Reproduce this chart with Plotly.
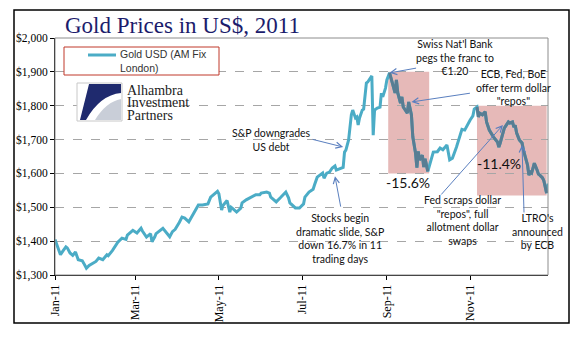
import plotly.graph_objects as go

# ---------------- data ----------------
dates = [
    "2011-01-03", "2011-01-05", "2011-01-07", "2011-01-09", "2011-01-11", "2011-01-12", "2011-01-14",
    "2011-01-16", "2011-01-18", "2011-01-20", "2011-01-23", "2011-01-24", "2011-01-26", "2011-01-28",
    "2011-01-31", "2011-02-02", "2011-02-04", "2011-02-07", "2011-02-10", "2011-02-11", "2011-02-14",
    "2011-02-17", "2011-02-18", "2011-02-21", "2011-02-24", "2011-02-25", "2011-03-01", "2011-03-04",
    "2011-03-07", "2011-03-08", "2011-03-11", "2011-03-14", "2011-03-15", "2011-03-17", "2011-03-18",
    "2011-03-23", "2011-03-25", "2011-03-28", "2011-03-30", "2011-04-01", "2011-04-04", "2011-04-06",
    "2011-04-08", "2011-04-11", "2011-04-13", "2011-04-15", "2011-04-18", "2011-04-21", "2011-04-25",
    "2011-04-27", "2011-05-02", "2011-05-03", "2011-05-05", "2011-05-06", "2011-05-09", "2011-05-11",
    "2011-05-12", "2011-05-13", "2011-05-16", "2011-05-19", "2011-05-20", "2011-05-23", "2011-05-27",
    "2011-05-30", "2011-06-02", "2011-06-03", "2011-06-07", "2011-06-09", "2011-06-10", "2011-06-14",
    "2011-06-17", "2011-06-20", "2011-06-21", "2011-06-23", "2011-06-24", "2011-06-28", "2011-07-01",
    "2011-07-04", "2011-07-05", "2011-07-08", "2011-07-11", "2011-07-12", "2011-07-14", "2011-07-18",
    "2011-07-19", "2011-07-21", "2011-07-23", "2011-07-25", "2011-07-27", "2011-07-28", "2011-07-31",
    "2011-08-02", "2011-08-03", "2011-08-04", "2011-08-06", "2011-08-07", "2011-08-08", "2011-08-09",
    "2011-08-11", "2011-08-12", "2011-08-13", "2011-08-14", "2011-08-16", "2011-08-17", "2011-08-18",
    "2011-08-19", "2011-08-20", "2011-08-22", "2011-08-23", "2011-08-24", "2011-08-25", "2011-08-27",
    "2011-08-29", "2011-08-30", "2011-08-31", "2011-09-02", "2011-09-03", "2011-09-05", "2011-09-07",
    "2011-09-09", "2011-09-10", "2011-09-11", "2011-09-13", "2011-09-14", "2011-09-15", "2011-09-18",
    "2011-09-19", "2011-09-20", "2011-09-21", "2011-09-22", "2011-09-24", "2011-09-25", "2011-09-26",
    "2011-09-27", "2011-09-29", "2011-09-30", "2011-10-01", "2011-10-03", "2011-10-05", "2011-10-07",
    "2011-10-10", "2011-10-12", "2011-10-14", "2011-10-17", "2011-10-19", "2011-10-21", "2011-10-24",
    "2011-10-27", "2011-10-28", "2011-10-30", "2011-11-01", "2011-11-03", "2011-11-05", "2011-11-06",
    "2011-11-08", "2011-11-09", "2011-11-10", "2011-11-12", "2011-11-14", "2011-11-15", "2011-11-17",
    "2011-11-20", "2011-11-23", "2011-11-24", "2011-11-25", "2011-11-26", "2011-11-27", "2011-11-28",
    "2011-12-01", "2011-12-02", "2011-12-04", "2011-12-05", "2011-12-06", "2011-12-07", "2011-12-09",
    "2011-12-11", "2011-12-12", "2011-12-13", "2011-12-15", "2011-12-16", "2011-12-17", "2011-12-18",
    "2011-12-19", "2011-12-20", "2011-12-22", "2011-12-23", "2011-12-24", "2011-12-26", "2011-12-27",
    "2011-12-28", "2011-12-29", "2011-12-30",
]
gold_usd = [
    1405, 1380, 1360, 1372, 1383, 1380, 1365,
    1358, 1368, 1345, 1342, 1335, 1320, 1328,
    1335, 1340, 1350, 1345, 1360, 1357, 1372,
    1389, 1397, 1409, 1405, 1418, 1432, 1424,
    1438, 1430, 1412, 1422, 1398, 1412, 1422,
    1438, 1428, 1413, 1428, 1435, 1455, 1471,
    1468, 1457, 1471, 1486, 1507, 1507, 1510,
    1530, 1547, 1540, 1492, 1505, 1520, 1486,
    1500, 1497, 1486, 1497, 1513, 1522, 1530,
    1537, 1537, 1542, 1545, 1542, 1530, 1516,
    1528, 1542, 1545, 1528, 1513, 1498, 1498,
    1510, 1530, 1545, 1553, 1566, 1589, 1601,
    1586, 1601, 1604, 1616, 1622, 1610, 1616,
    1618, 1663, 1669, 1699, 1737, 1773, 1787,
    1764, 1767, 1743, 1764, 1787, 1790, 1826,
    1867, 1870, 1882, 1888, 1713, 1787, 1793,
    1796, 1837, 1826, 1852, 1876, 1897, 1867,
    1838, 1876, 1838, 1808, 1826, 1796, 1778,
    1811, 1796, 1773, 1708, 1660, 1617, 1665,
    1640, 1654, 1619, 1643, 1606, 1634, 1663,
    1664, 1675, 1670, 1684, 1640, 1645, 1678,
    1719, 1730, 1728, 1745, 1758, 1770, 1790,
    1796, 1767, 1778, 1773, 1782, 1752, 1728,
    1708, 1693, 1678, 1690, 1708, 1722, 1734,
    1752, 1749, 1752, 1737, 1742, 1720, 1699,
    1690, 1669, 1655, 1625, 1595, 1604, 1601,
    1615, 1630, 1610, 1598, 1595, 1587, 1578,
    1560, 1542, 1570,
]

# shaded sell-off periods: start, end, low, high, label
shade_start = ["2011-09-04", "2011-11-08"]
shade_end = ["2011-10-04", "2011-12-29"]
shade_low = [1600, 1535]
shade_high = [1900, 1800]
shade_label = ["-15.6%", "-11.4%"]

tick_dates = ["2011-01-03", "2011-03-03", "2011-05-03", "2011-07-03", "2011-09-03", "2011-11-03"]
tick_text = ["Jan-11", "Mar-11", "May-11", "Jul-11", "Sep-11", "Nov-11"]

# event annotations: text, arrow head (date, price), arrow tail offset (px), text centre (px)
events = [
    ("Swiss Nat'l Bank<br>pegs the franc to<br>€1.20", "2011-09-05", 1897, 28, -5, 455, 58),
    ("ECB, Fed, BoE<br>offer term dollar<br>\"repos\"", "2011-09-21", 1811, 60, -9, 513, 87),
    ("S&P downgrades<br>US debt", "2011-08-02", 1678, -32, -8, 271, 140),
    ("Stocks begin<br>dramatic slide, S&P<br>down 16.7% in 11<br>trading days", "2011-07-27", 1592, 6, 32, 340, 238),
    ("Fed scraps dollar<br>\"repos\", full<br>allotment dollar<br>swaps", "2011-11-27", 1743, -63, 71, 462, 220),
    ("LTRO's<br>announced<br>by ECB", "2011-12-11", 1684, 2, 69, 537, 231),
]
label_pos = [(408, 182), (499, 163)]
logo_lines = ["Alhambra", "Investment", "Partners"]

# ---------------- layout helpers (pixel -> paper) ----------------
W, H = 577, 341
L, R, T, B = 55, 548, 38, 275


def px(x):
    return (x - L) / (R - L)


def py(y):
    return (B - y) / (B - T)


TEAL = "#4bacc6"
DARK = "#587d93"
PINK = "#e6b9b8"
ARROW = "#5a7fbf"

fig = go.Figure()
fig.add_trace(go.Scatter(x=dates, y=gold_usd, mode="lines", name="Gold USD (AM Fix London)",
                         line=dict(color=TEAL, width=3), showlegend=False, hoverinfo="x+y"))
for s, e in zip(shade_start, shade_end):
    xs = [d for d in dates if s <= d <= e]
    ys = [v for d, v in zip(dates, gold_usd) if s <= d <= e]
    fig.add_trace(go.Scatter(x=xs, y=ys, mode="lines", line=dict(color=DARK, width=3),
                             showlegend=False, hoverinfo="skip"))

shapes = []
for s, e, lo, hi in zip(shade_start, shade_end, shade_low, shade_high):
    shapes.append(dict(type="rect", xref="x", yref="y", x0=s, x1=e, y0=lo, y1=hi,
                       fillcolor=PINK, line=dict(width=0), layer="below"))
# plot area border
shapes.append(dict(type="rect", xref="paper", yref="paper", x0=0, x1=1, y0=0, y1=1,
                   line=dict(color="#8c8c8c", width=1)))
# outer frame
shapes.append(dict(type="rect", xref="paper", yref="paper", x0=px(14), x1=px(569), y0=py(323), y1=py(10),
                   line=dict(color="black", width=1.5)))
# legend box
shapes.append(dict(type="rect", xref="paper", yref="paper", x0=px(64), x1=px(219), y0=py(75), y1=py(47),
                   line=dict(color="#c0392b", width=1), fillcolor="white"))
shapes.append(dict(type="line", xref="paper", yref="paper", x0=px(88), x1=px(116), y0=py(55), y1=py(55),
                   line=dict(color=TEAL, width=3)))
# logo
shapes.append(dict(type="rect", xref="paper", yref="paper", x0=px(77), x1=px(122), y0=py(121), y1=py(83),
                   line=dict(color="#c8c8c8", width=1), fillcolor="white"))


def path(pts):
    out = []
    for cmd, coords in pts:
        out.append(cmd + " ".join(f"{px(a):.4f},{py(b):.4f}" for a, b in coords))
    return " ".join(out) + " Z"


shapes.append(dict(type="path", xref="paper", yref="paper", line=dict(width=0), fillcolor="#1f2a6e",
                   path=path([("M", [(80, 120)]), ("L", [(89, 84)]), ("L", [(121, 84)]), ("L", [(121, 93)]),
                              ("Q", [(100, 95), (86, 120)])])))
shapes.append(dict(type="path", xref="paper", yref="paper", line=dict(width=0), fillcolor="#c9ced8",
                   path=path([("M", [(95, 120)]), ("Q", [(106, 102), (121, 99)]), ("L", [(121, 120)])])))

annotations = []
annotations.append(dict(xref="paper", yref="paper", x=px(182), y=py(25), text="Gold Prices in US$, 2011",
                        showarrow=False, xanchor="center", yanchor="middle",
                        font=dict(family="Liberation Serif", size=23, color="#1c1c6c")))
annotations.append(dict(xref="paper", yref="paper", x=px(118), y=py(61), text="Gold USD (AM Fix<br>London)",
                        showarrow=False, xanchor="left", yanchor="middle", align="left",
                        font=dict(family="Liberation Serif" if False else "Liberation Sans", size=10.5,
                                  color="#333333")))
for i, line in enumerate(logo_lines):
    annotations.append(dict(xref="paper", yref="paper", x=px(125), y=py(90 + 12.5 * i), text=line,
                            showarrow=False, xanchor="left", yanchor="middle", align="left",
                            font=dict(family="Liberation Serif", size=14, color="#222222")))
for text, hx, hy, ax, ay, tx, ty in events:
    annotations.append(dict(xref="x", yref="y", x=hx, y=hy, text="", showarrow=True, axref="pixel",
                            ayref="pixel", ax=ax, ay=ay, arrowhead=5, arrowsize=1.2, arrowwidth=1,
                            arrowcolor=ARROW, standoff=0, startstandoff=0))
    annotations.append(dict(xref="paper", yref="paper", x=px(tx), y=py(ty), text=text, showarrow=False,
                            xanchor="center", yanchor="middle", align="center",
                            font=dict(family="Lato", size=10.5, color="#111111")))
for lbl, (lx, ly) in zip(shade_label, label_pos):
    annotations.append(dict(xref="paper", yref="paper", x=px(lx), y=py(ly), text=lbl, showarrow=False,
                            xanchor="center", yanchor="middle",
                            font=dict(family="Lato", size=14, color="#111111")))

fig.update_layout(
    width=W, height=H, autosize=False,
    margin=dict(l=L, r=W - R, t=T, b=H - B, pad=0),
    paper_bgcolor="white", plot_bgcolor="white",
    shapes=shapes, annotations=annotations, showlegend=False,
    xaxis=dict(type="date", range=["2011-01-03", "2011-12-30"], tickvals=tick_dates, ticktext=tick_text,
               tickangle=-90, ticks="outside", ticklen=4, tickcolor="black", showgrid=False,
               showline=True, linecolor="black", linewidth=1, zeroline=False, automargin=False,
               tickfont=dict(family="Liberation Serif", size=12, color="black")),
    yaxis=dict(range=[1300, 2000], dtick=100, tickprefix="$", tickformat=",d", ticks="outside", ticklen=4,
               tickcolor="black", showline=True, linecolor="black", linewidth=1, zeroline=False,
               showgrid=True, gridcolor="#a6a6a6", gridwidth=1, griddash="dash", automargin=False,
               tickfont=dict(family="Liberation Serif", size=11.5, color="black")),
)

fig.write_html("out.html")
